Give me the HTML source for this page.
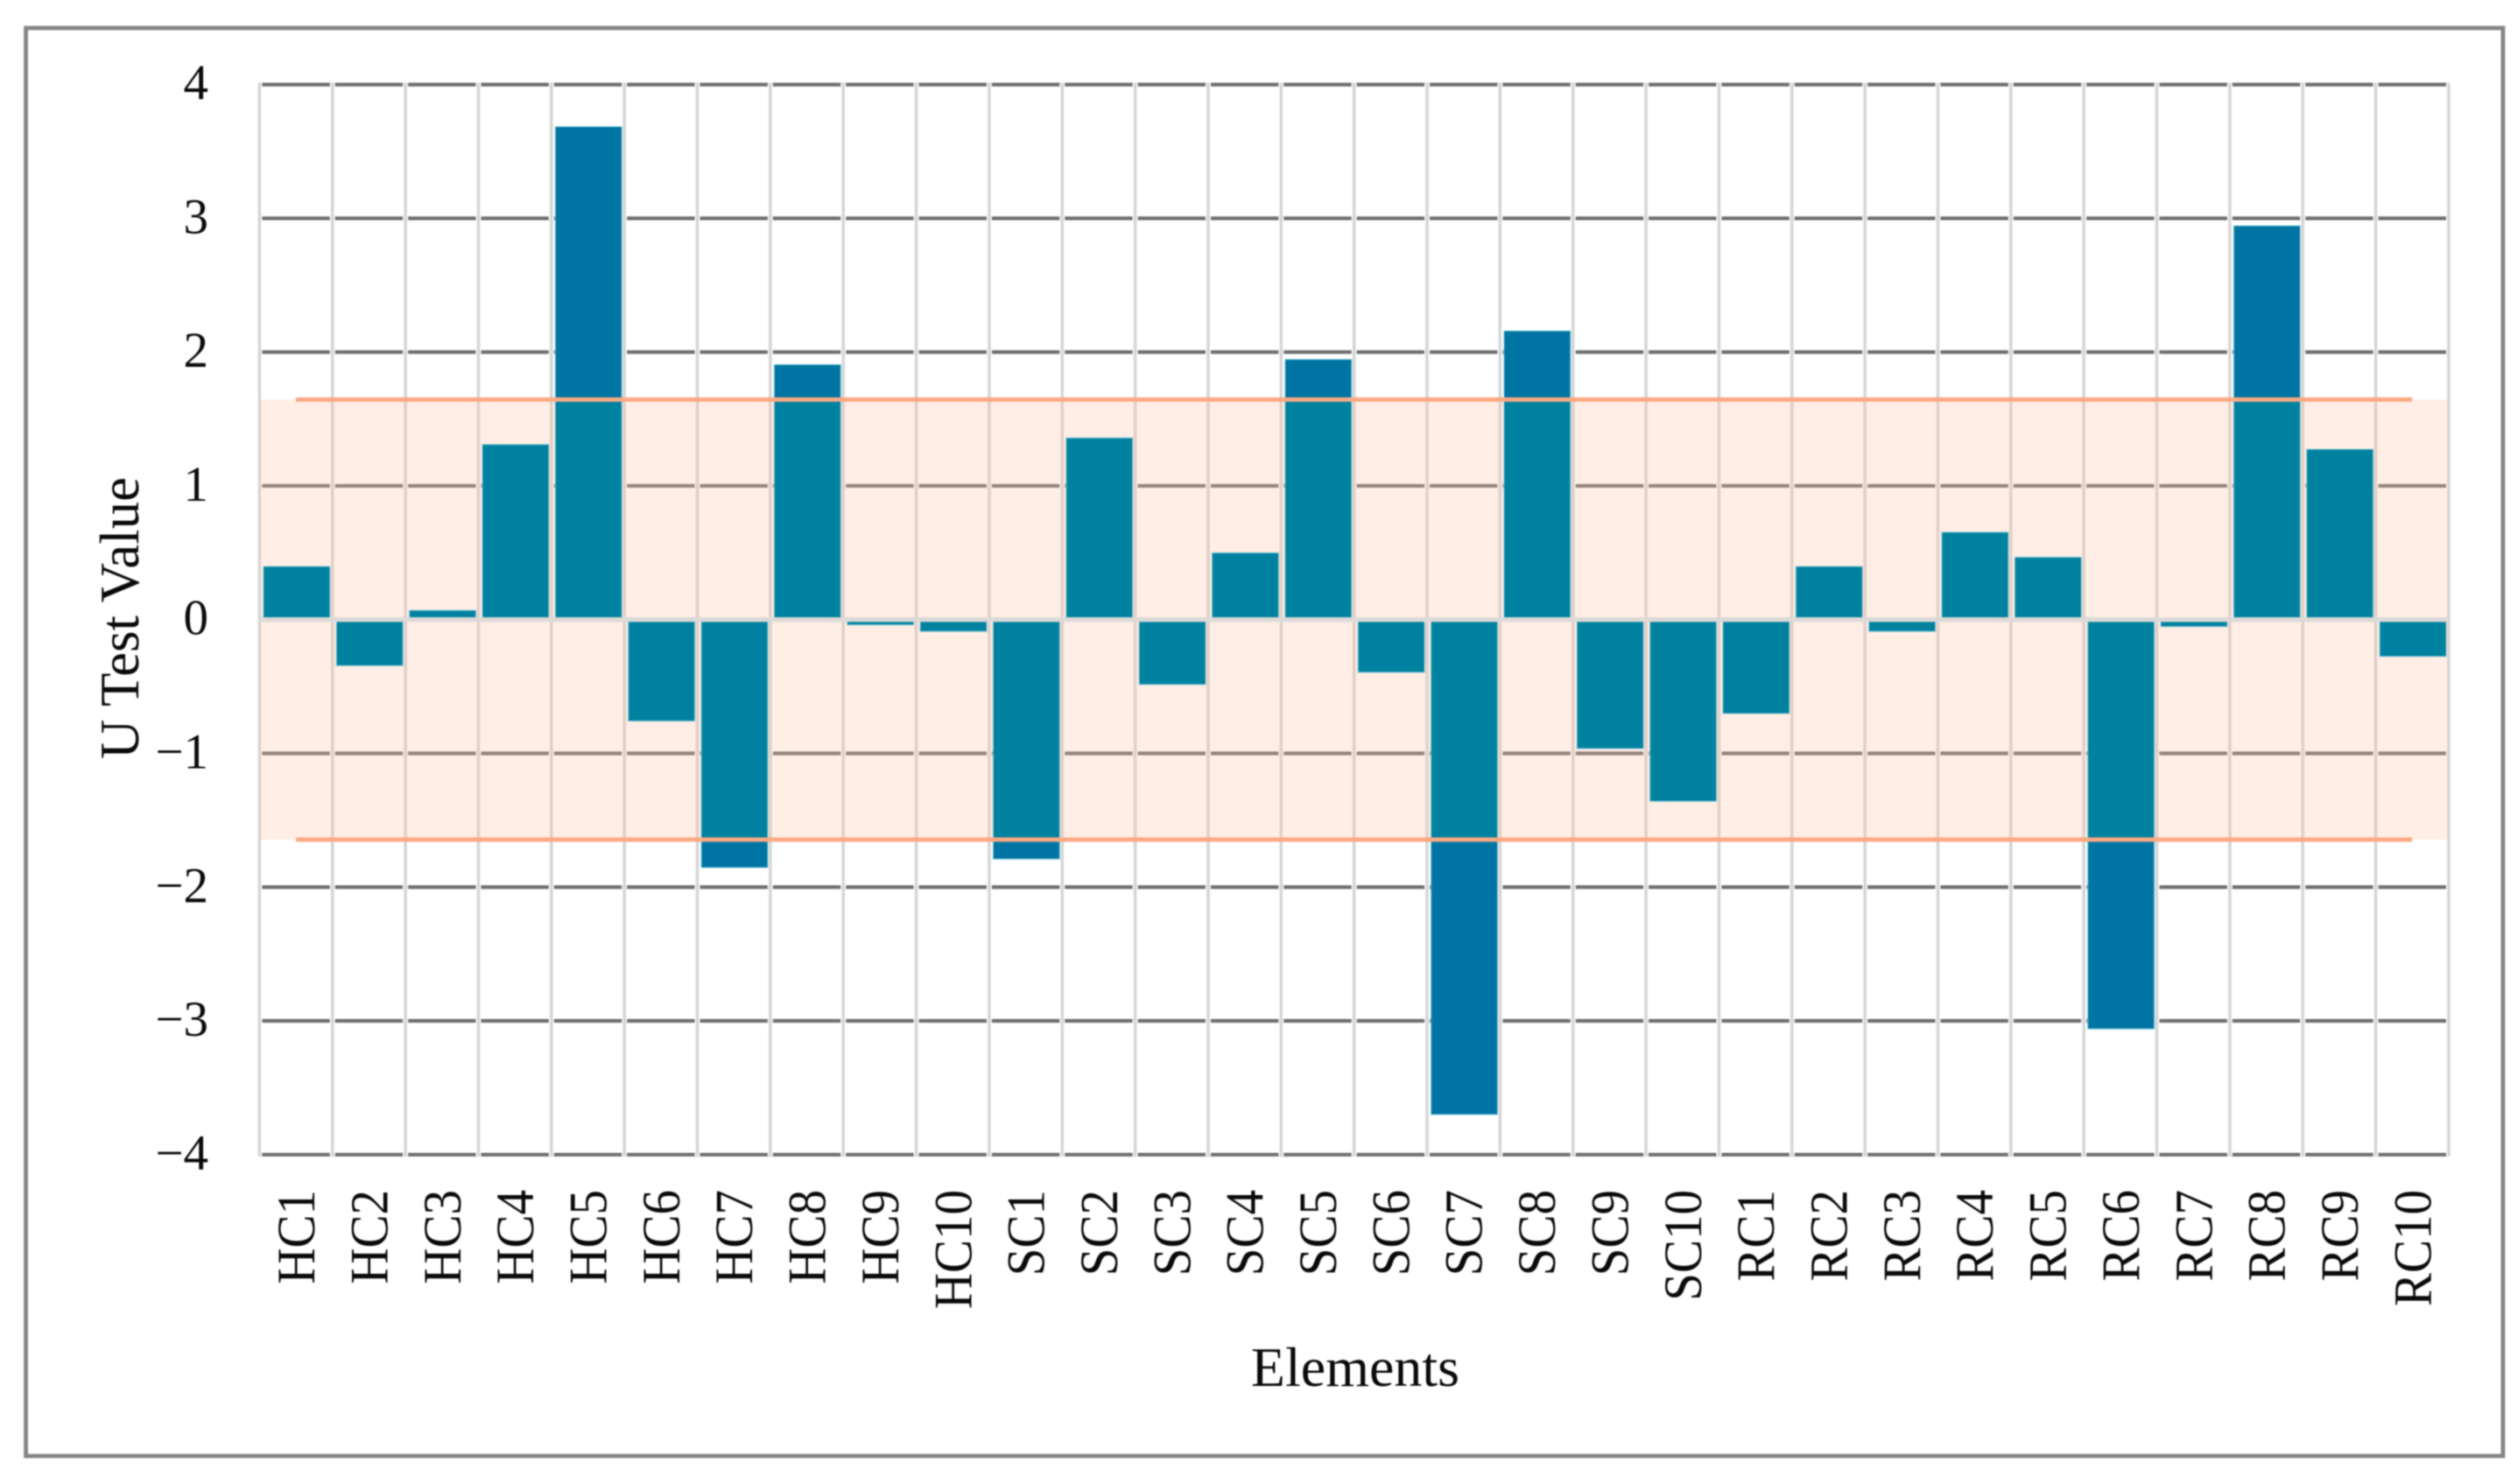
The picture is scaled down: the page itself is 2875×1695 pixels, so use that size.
<!DOCTYPE html>
<html lang="en">
<head>
<meta charset="utf-8">
<title>U Test Value by Element</title>
<style>
html,body{margin:0;padding:0;background:#fff;}
body{width:2875px;height:1695px;overflow:hidden;}
#chart{display:block;width:2875px;height:1695px;filter:blur(0.7px);}
text{font-family:"Liberation Serif",serif;fill:#0a0a0a;}
</style>
</head>
<body>
<svg id="chart" xmlns="http://www.w3.org/2000/svg" width="2875" height="1695" viewBox="0 0 2875 1695">
  <rect x="0" y="0" width="2875" height="1695" fill="#ffffff"/>
  <rect x="29.6" y="32" width="2829.4" height="1631" fill="none" stroke="#858585" stroke-width="4.8"/>
  <g id="gridlines"></g>
  <g id="band"></g>
  <g id="bars"></g>
  <g id="limits"></g>
  <g id="axisLine"></g>
  <g id="yTicks"></g>
  <g id="xTicks"></g>
  <text x="0" y="0" transform="translate(158,706) rotate(-90)" text-anchor="middle" font-size="63" id="yTitle">U Test Value</text>
  <text x="1548" y="1583" text-anchor="middle" font-size="64">Elements</text>
</svg>
<script>
const categories = ["HC1","HC2","HC3","HC4","HC5","HC6","HC7","HC8","HC9","HC10","SC1","SC2","SC3","SC4","SC5","SC6","SC7","SC8","SC9","SC10","RC1","RC2","RC3","RC4","RC5","RC6","RC7","RC8","RC9","RC10"];
const uTestValues = [0.397,-0.344,0.069,1.309,3.685,-0.758,-1.854,1.906,-0.039,-0.088,-1.79,1.358,-0.485,0.499,1.945,-0.394,-3.70,2.158,-0.964,-1.358,-0.702,0.397,-0.088,0.653,0.466,-3.06,-0.052,2.944,1.273,-0.275];
const yTickValues = [4,3,2,1,0,-1,-2,-3,-4];
const yTickLabels = ["4","3","2","1","0","\u22121","\u22122","\u22123","\u22124"];
const upperLimit = 1.645;
const lowerLimit = -1.645;

const SVG_NS = "http://www.w3.org/2000/svg";
const plotLeft = 296.4, plotRight = 2797, plotTop = 96.6, plotBottom = 1318.8;
const yMax = 4, yMin = -4;
const barFraction = 0.91;

function yScale(v){ return plotTop + (yMax - v) / (yMax - yMin) * (plotBottom - plotTop); }
function catWidth(){ return (plotRight - plotLeft) / categories.length; }
function xEdge(i){ return plotLeft + i * catWidth(); }
function xCenter(i){ return xEdge(i) + catWidth() / 2; }
function make(tag, attrs, parent){
  const el = document.createElementNS(SVG_NS, tag);
  for (const k in attrs) el.setAttribute(k, attrs[k]);
  parent.appendChild(el);
  return el;
}
function lineEl(x1, y1, x2, y2, stroke, width, parent){
  return make("line", {x1:x1, y1:y1, x2:x2, y2:y2, stroke:stroke, "stroke-width":width}, parent);
}

const gridG = document.getElementById("gridlines");
yTickValues.forEach(function(v){
  const el = lineEl(plotLeft, yScale(v), plotRight, yScale(v), "#6f6f6f", 4.2, gridG);
  
  
});
for (let i = 0; i <= categories.length; i++){
  const halo = lineEl(xEdge(i), plotTop - 2, xEdge(i), plotBottom + 2, "#ffffff", 6, gridG);
  
  
  const el = lineEl(xEdge(i), plotTop - 2, xEdge(i), plotBottom + 2, "#d6d6d6", 3.6, gridG);
  
  
}

const bandG = document.getElementById("band");
const bandRect = make("rect", {
  x: plotLeft,
  y: yScale(upperLimit),
  width: plotRight - plotLeft,
  height: yScale(lowerLimit) - yScale(upperLimit),
  fill: "rgb(255,191,161)",
  "fill-opacity": 0.265
}, bandG);



const barsG = document.getElementById("bars");
const zeroY = yScale(0);
function barSegment(i, vFrom, vTo, fill){
  const w = catWidth() * barFraction;
  const y1 = yScale(Math.max(vFrom, vTo));
  const y2 = yScale(Math.min(vFrom, vTo));
  return make("rect", {
    x: xCenter(i) - w / 2 + 0.8,
    y: y1,
    width: w,
    height: y2 - y1,
    fill: fill,
    stroke: "#6fc3d6",
    "stroke-width": 1.2,
    "stroke-opacity": 0.7
  }, barsG);
}
uTestValues.forEach(function(v, i){
  const clamped = Math.max(lowerLimit, Math.min(upperLimit, v));
  if (v !== clamped){
    const outer = barSegment(i, clamped, v, "#0075a4");
    
    
  }
  const inner = barSegment(i, 0, clamped, "#00819f");
  
  
});

const limitsG = document.getElementById("limits");
[upperLimit, lowerLimit].forEach(function(v){
  const el = lineEl(xCenter(0), yScale(v), xCenter(categories.length - 1), yScale(v), "#fba983", 5, limitsG);
  
  
});

const axisG = document.getElementById("axisLine");
const zeroLine = lineEl(plotLeft, zeroY, plotRight, zeroY, "#dcd9d7", 5.4, axisG);



const yG = document.getElementById("yTicks");
yTickValues.forEach(function(v, i){
  const t = make("text", {x: 238, y: yScale(v) + 17, "text-anchor": "end", "font-size": 57}, yG);
  t.textContent = yTickLabels[i];
  
  
});

const xG = document.getElementById("xTicks");
categories.forEach(function(c, i){
  const t = make("text", {
    transform: "translate(" + (xCenter(i) + 21) + ",1359) rotate(-90) scale(1,1.08)",
    x: 0,
    y: 0,
    "text-anchor": "end",
    "font-size": 57
  }, xG);
  t.textContent = c;
  
  
});
</script>
</body>
</html>
